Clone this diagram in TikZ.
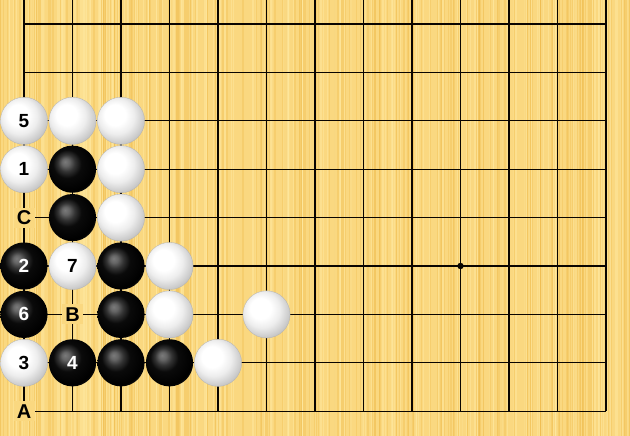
\documentclass[tikz,border=0pt]{standalone}
\usepackage{fontspec}
\setmainfont{Liberation Sans}
\definecolor{board}{RGB}{250,216,128}
\definecolor{boardlight}{RGB}{254,232,160}
\definecolor{boarddark}{RGB}{240,188,78}
\definecolor{gridcol}{RGB}{10,5,0}
\pgfdeclareradialshading{whitestone}{\pgfpoint{-8bp}{8bp}}{%
  color(0bp)=(white); color(11bp)=(white); color(19bp)=(white!93!black);
  color(27bp)=(white!80!black); color(36bp)=(white!64!black); color(50bp)=(white!64!black)}
\pgfdeclareradialshading{blackstone}{\pgfpoint{-8bp}{8bp}}{%
  color(0bp)=(black!52!white); color(4bp)=(black!60!white); color(9bp)=(black!80);
  color(15bp)=(black!96); color(27bp)=(black); color(33bp)=(black!88!white); color(37bp)=(black!78!white); color(50bp)=(black!78!white)}
\tikzset{
  wstone/.style={circle, minimum size=47.2pt, inner sep=0pt, shading=whitestone,
    draw=black!30, line width=0.3pt, font=\fontsize{19}{19}\selectfont\bfseries, text=black},
  bstone/.style={circle, minimum size=47.2pt, inner sep=0pt, shading=blackstone,
    font=\fontsize{19}{19}\selectfont\bfseries, text=white},
  ptlabel/.style={fill=board, inner sep=0pt, minimum width=21pt, minimum height=20pt,
    font=\fontsize{20}{20}\selectfont\bfseries, text=black},
  gridline/.style={draw=gridcol, line width=1.3pt}
}
\newcommand{\gx}[1]{24+48.5*#1}
\newcommand{\gy}[1]{24+48.4*#1}
\begin{document}
\begin{tikzpicture}[x=1pt,y=-1pt]
\useasboundingbox (0,0) rectangle (630,436);
\fill[board] (0,0) rectangle (630,436);
\pgfmathsetseed{4242}
\foreach \k in {1,...,260}{
  \pgfmathsetmacro\xx{rnd*630}
  \pgfmathsetmacro\ww{0.4+rnd*1.4}
  \draw[boarddark, opacity=0.35, line width=\ww pt] (\xx,0) -- (\xx,436);
}
\foreach \k in {1,...,200}{
  \pgfmathsetmacro\xx{rnd*630}
  \pgfmathsetmacro\ww{0.4+rnd*1.2}
  \draw[boardlight, opacity=0.5, line width=\ww pt] (\xx,0) -- (\xx,436);
}
% grid
\foreach \i in {0,...,12}{
  \draw[gridline] ({\gx{\i}},0) -- ({\gx{\i}},{\gy{8}});
}
\foreach \j in {0,...,8}{
  \draw[gridline] ({\gx{0}},{\gy{\j}}) -- ({\gx{12}},{\gy{\j}});
}
\fill[gridcol] ({\gx{9}},{\gy{5}}) circle (3.2pt);
% labels
\node[ptlabel] (labC) at ({\gx{0}},{\gy{4}}) {C};
\node[ptlabel] (labB) at ({\gx{1}},{\gy{6}}) {B};
\node[ptlabel] (labA) at ({\gx{0}},{\gy{8}}) {A};
% white stones
\node[wstone] (w5) at ({\gx{0}},{\gy{2}}) {5};
\node[wstone] (wa) at ({\gx{1}},{\gy{2}}) {};
\node[wstone] (wb) at ({\gx{2}},{\gy{2}}) {};
\node[wstone] (w1) at ({\gx{0}},{\gy{3}}) {1};
\node[wstone] (wc) at ({\gx{2}},{\gy{3}}) {};
\node[wstone] (wd) at ({\gx{2}},{\gy{4}}) {};
\node[wstone] (w7) at ({\gx{1}},{\gy{5}}) {7};
\node[wstone] (we) at ({\gx{3}},{\gy{5}}) {};
\node[wstone] (wf) at ({\gx{3}},{\gy{6}}) {};
\node[wstone] (wg) at ({\gx{5}},{\gy{6}}) {};
\node[wstone] (w3) at ({\gx{0}},{\gy{7}}) {3};
\node[wstone] (wh) at ({\gx{4}},{\gy{7}}) {};
% black stones
\node[bstone] (ba) at ({\gx{1}},{\gy{3}}) {};
\node[bstone] (bb) at ({\gx{1}},{\gy{4}}) {};
\node[bstone] (b2) at ({\gx{0}},{\gy{5}}) {2};
\node[bstone] (bc) at ({\gx{2}},{\gy{5}}) {};
\node[bstone] (b6) at ({\gx{0}},{\gy{6}}) {6};
\node[bstone] (bd) at ({\gx{2}},{\gy{6}}) {};
\node[bstone] (b4) at ({\gx{1}},{\gy{7}}) {4};
\node[bstone] (be) at ({\gx{2}},{\gy{7}}) {};
\node[bstone] (bf) at ({\gx{3}},{\gy{7}}) {};
\end{tikzpicture}
\end{document}
